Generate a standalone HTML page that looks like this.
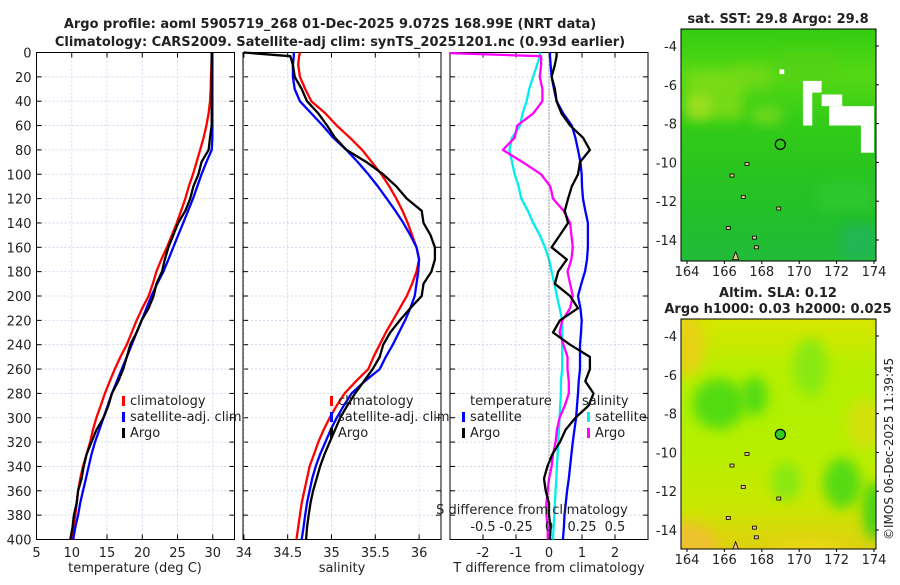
<!DOCTYPE html>
<html><head><meta charset="utf-8"><style>
body{margin:0;background:#fff;width:900px;height:580px;overflow:hidden}
svg{font-family:"DejaVu Sans","Liberation Sans",sans-serif}
</style></head><body>
<svg id="c" width="900" height="580"></svg>
<script>
// ---------- data ----------
const depths=[0,3,10,20,30,40,50,60,70,80,90,100,110,120,130,140,150,160,170,180,190,200,210,220,230,240,250,260,270,280,290,300,310,320,330,340,350,360,370,380,390,400];
const tempArgo=[29.85,29.85,29.85,29.85,29.85,29.85,29.85,29.85,29.6,29.4,28.4,27.96,27.25,26.8,26.1,25.1,24.4,23.7,23.2,22.8,22.0,21.6,20.9,19.9,19.2,18.3,17.8,17.3,16.6,15.7,15.2,14.5,13.5,12.8,12.1,11.7,11.4,10.9,10.7,10.3,10.1,9.8];
const tempClim=[29.85,29.85,29.8,29.75,29.7,29.6,29.4,29.1,28.7,28.2,27.7,27.2,26.6,26.1,25.5,24.9,24.2,23.5,22.7,22.0,21.5,20.9,20.0,19.2,18.5,17.8,16.9,16.1,15.4,14.7,14.1,13.5,13.0,12.6,12.1,11.6,11.2,10.9,10.7,10.5,10.2,10.0];
const tempSat=[29.95,29.95,29.95,29.95,29.95,29.95,29.95,29.95,29.95,29.85,29.1,28.4,27.8,27.2,26.5,25.8,25.1,24.4,23.7,23.0,22.1,21.3,20.6,19.9,19.2,18.5,17.8,17.1,16.4,15.7,15.1,14.5,13.9,13.3,12.8,12.4,12.0,11.6,11.2,10.9,10.5,10.2];
const salArgo=[34.0,34.53,34.56,34.58,34.66,34.72,34.85,34.95,35.04,35.17,35.4,35.59,35.74,35.86,36.03,36.05,36.13,36.18,36.18,36.14,36.05,36.03,35.9,35.78,35.67,35.59,35.55,35.47,35.37,35.27,35.18,35.1,35.04,34.98,34.92,34.87,34.83,34.79,34.76,34.74,34.72,34.71];
const salClim=[34.64,34.63,34.62,34.64,34.7,34.77,34.93,35.06,35.21,35.35,35.46,35.57,35.66,35.74,35.81,35.87,35.92,35.97,36.0,35.97,35.92,35.86,35.78,35.7,35.62,35.55,35.48,35.42,35.28,35.15,35.06,34.98,34.91,34.85,34.8,34.75,34.72,34.69,34.66,34.64,34.62,34.6];
const salSat=[34.57,34.57,34.56,34.56,34.58,34.64,34.77,34.9,35.02,35.17,35.3,35.42,35.53,35.63,35.73,35.82,35.9,35.97,36.0,35.99,35.97,35.95,35.9,35.84,35.77,35.7,35.62,35.55,35.38,35.23,35.14,35.06,34.99,34.93,34.87,34.82,34.78,34.75,34.72,34.7,34.68,34.66];
const tdArgo=[0.23,0.23,0.18,0.08,0.18,0.23,0.38,0.64,1.03,1.24,0.94,0.88,0.69,0.58,0.48,0.58,0.33,0.08,0.54,0.28,0.18,0.64,0.88,0.33,0.12,0.64,1.24,1.24,1.1,1.35,1.2,0.8,0.5,0.33,0.1,-0.05,-0.15,-0.1,0.0,0.0,0.05,0.03];
const tdSat=[0.03,0.03,0.05,0.08,0.15,0.23,0.43,0.69,0.8,0.88,0.95,0.99,1.0,1.03,1.1,1.18,1.18,1.18,1.15,1.09,0.98,0.88,0.95,0.99,0.97,0.94,0.94,0.94,0.9,0.88,0.85,0.82,0.77,0.72,0.68,0.64,0.6,0.55,0.51,0.47,0.45,0.42];
const sdSat=[-0.07,-0.07,-0.09,-0.12,-0.15,-0.17,-0.2,-0.22,-0.28,-0.3,-0.28,-0.26,-0.23,-0.21,-0.16,-0.12,-0.07,-0.03,0.0,0.02,0.04,0.06,0.08,0.1,0.1,0.1,0.1,0.1,0.09,0.09,0.085,0.08,0.075,0.07,0.065,0.06,0.055,0.05,0.045,0.04,0.035,0.03];
const sdArgo=[-0.9,-0.06,-0.06,-0.07,-0.05,-0.05,-0.12,-0.24,-0.26,-0.35,-0.2,-0.06,0.01,0.03,0.11,0.16,0.17,0.18,0.17,0.14,0.16,0.18,0.16,0.1,0.08,0.11,0.14,0.14,0.15,0.15,0.12,0.08,0.06,0.05,0.03,0.02,0.0,-0.01,-0.02,-0.02,-0.01,-0.01];
const depthTicks=[0,20,40,60,80,100,120,140,160,180,200,220,240,260,280,300,320,340,360,380,400];
const tTicks=[5,10,15,20,25,30];
const sTicks=[34,34.5,35,35.5,36];
const dTicks=[-2,-1,0,1,2];
const sdTicks=[-0.5,-0.25,0,0.25,0.5];
const lonTicks=[164,166,168,170,172,174];
const latTicks=[-4,-6,-8,-10,-12,-14];
// ---------- helpers ----------
const svg=document.getElementById('c');const NS='http://www.w3.org/2000/svg';
function el(t,a,p){const e=document.createElementNS(NS,t);for(const k in a)e.setAttribute(k,a[k]);(p||svg).appendChild(e);return e;}
function txt(x,y,s,o){o=o||{};const e=el('text',{x:x,y:y,'font-size':o.fs||13,'text-anchor':o.a||'middle',fill:o.c||'#222','font-weight':o.b?'bold':'normal'});e.textContent=s;return e;}
const yTop=52.5,yBot=539.5;const yD=d=>yTop+(yBot-yTop)*d/400;
const defs=el('defs',{});
let clipN=0;
function panel(x0,x1,xmin,xmax,ticks,name,ylabels){
  const xs=v=>x0+(x1-x0)*(v-xmin)/(xmax-xmin);
  const g=el('g',{});
  depthTicks.forEach(d=>{el('line',{x1:x0,x2:x1,y1:yD(d),y2:yD(d),stroke:'#c8d0ec','stroke-dasharray':'2,2','stroke-width':0.8},g);
    el('line',{x1:x0,x2:x0+5,y1:yD(d),y2:yD(d),stroke:'#000'},g);el('line',{x1:x1-5,x2:x1,y1:yD(d),y2:yD(d),stroke:'#000'},g);
    if(ylabels){const t=txt(x0-5,yD(d)+5,String(d),{a:'end'});g.appendChild(t);}});
  ticks.forEach(v=>{el('line',{x1:xs(v),x2:xs(v),y1:yTop,y2:yBot,stroke:'#c8d0ec','stroke-dasharray':'2,2','stroke-width':0.8},g);
    el('line',{x1:xs(v),x2:xs(v),y1:yBot,y2:yBot-5,stroke:'#000'},g);el('line',{x1:xs(v),x2:xs(v),y1:yTop,y2:yTop+5,stroke:'#000'},g);});
  el('rect',{x:x0,y:yTop,width:x1-x0,height:yBot-yTop,fill:'none',stroke:'#000','stroke-width':1},g);
  const cid='clip'+(clipN++);const cp=el('clipPath',{id:cid},defs);el('rect',{x:x0,y:yTop-2,width:x1-x0,height:yBot-yTop+4},cp);
  const lg=el('g',{'clip-path':'url(#'+cid+')'});
  return {xs:xs,g:g,lg:lg};
}
function line(arr,xs,color,name,parent){const n=Math.min(arr.length,depths.length);const p=[];
  for(let i=0;i<n;i++)p.push(xs(arr[i]).toFixed(1)+','+yD(depths[i]).toFixed(1));
  const e=el('polyline',{points:p.join(' '),fill:'none',stroke:color,'stroke-width':2.3,'stroke-linejoin':'round'},parent);
  return e;}
function leg(x,y,color,label,name){const g=el('g',{});
  el('rect',{x:x,y:y-9,width:3,height:10,fill:color},g);g.appendChild(txt(x+8,y,label,{a:'start'}));}
// titles
const t1=txt(330,28,'Argo profile: aoml 5905719_268 01-Dec-2025 9.072S 168.99E (NRT data)',{b:true});
const t2=txt(340,46,'Climatology: CARS2009. Satellite-adj clim: synTS_20251201.nc (0.93d earlier)',{b:true});
// panel 1
const p1=panel(36.5,234.5,5,33.08,tTicks,'temperature-panel',true);
tTicks.forEach(v=>txt(p1.xs(v),557,String(v)));
txt(135,572,'temperature (deg C)');
line(tempClim,p1.xs,'#f00','temp-climatology-line',p1.lg);line(tempSat,p1.xs,'#00f','temp-satellite-line',p1.lg);line(tempArgo,p1.xs,'#000','temp-argo-line',p1.lg);
leg(122,405,'#f00','climatology','legend-climatology');leg(122,421,'#00f','satellite-adj. clim','legend-satellite');leg(122,437,'#000','Argo','legend-argo');
// panel 2
const p2=panel(243,441,33.99,36.25,sTicks,'salinity-panel',false);
sTicks.forEach(v=>txt(p2.xs(v),557,String(v)));
txt(342,572,'salinity');
line(salClim,p2.xs,'#f00','sal-climatology-line',p2.lg);line(salSat,p2.xs,'#00f','sal-satellite-line',p2.lg);line(salArgo,p2.xs,'#000','sal-argo-line',p2.lg);
leg(330,405,'#f00','climatology','legend2-climatology');leg(330,421,'#00f','satellite-adj. clim','legend2-satellite');leg(330,437,'#000','Argo','legend2-argo');
// panel 3
const p3=panel(450,648,-3.0,3.0,dTicks,'difference-panel',false);
const xsS=v=>p3.xs(v*4);
dTicks.forEach(v=>txt(p3.xs(v),557,String(v)));
sdTicks.forEach(v=>txt(xsS(v),531,String(v)));
txt(532,514,'S difference from climatology');
txt(549,572,'T difference from climatology');
el('line',{x1:p3.xs(0),x2:p3.xs(0),y1:yTop,y2:yBot,stroke:'#555','stroke-dasharray':'1,2'});
line(sdSat,xsS,'#0ee','sal-diff-satellite-line',p3.lg);line(tdSat,p3.xs,'#00f','temp-diff-satellite-line',p3.lg);
line(sdArgo,xsS,'#f0f','sal-diff-argo-line',p3.lg);line(tdArgo,p3.xs,'#000','temp-diff-argo-line',p3.lg);
txt(470,405,'temperature',{a:'start'});txt(582,405,'salinity',{a:'start'});
leg(462,421,'#00f','satellite','legend3-temp-satellite');leg(462,437,'#000','Argo','legend3-temp-argo');
leg(587,421,'#0ee','satellite','legend3-sal-satellite');leg(587,437,'#f0f','Argo','legend3-sal-argo');
// maps
function map(y0,y1,stops,extra,name,titles,filledDot){
  const x0=681,x1=876;const xs=v=>687+(874-687)*(v-164)/10;const ys=v=>y0+17+19.4*(-4-v);
  const g=el('g',{});
  const gid=name+'-grad';const lg=el('linearGradient',{id:gid,x1:0,y1:0,x2:0,y2:1},defs);
  stops.forEach((c,i)=>el('stop',{offset:i/(stops.length-1),'stop-color':c},lg));
  const cid=name+'-clip';const cp=el('clipPath',{id:cid},defs);el('rect',{x:x0,y:y0,width:x1-x0,height:y1-y0},cp);
  const inner=el('g',{'clip-path':'url(#'+cid+')'},g);
  el('rect',{x:x0,y:y0,width:x1-x0,height:y1-y0,fill:'url(#'+gid+')'},inner);
  extra(inner,xs,ys);
  [[166.3,-10.6],[166.9,-11.7],[167.5,-13.8],[167.6,-14.3],[166.1,-13.3],[168.8,-12.3],[167.1,-10.0]].forEach(p=>el('rect',{x:xs(p[0]),y:ys(p[1]),width:4,height:3,fill:'#f0c090',stroke:'#000','stroke-width':0.8},inner));
  el('path',{d:'M'+xs(166.6)+' '+ys(-14.6)+' l3 8 l-6 0 z',fill:'#f0c090',stroke:'#000','stroke-width':0.8},inner);
  el('rect',{x:x0,y:y0,width:x1-x0,height:y1-y0,fill:'none',stroke:'#000'},g);
  el('circle',{cx:xs(168.99),cy:ys(-9.07),r:5,fill:filledDot||'none',stroke:'#000','stroke-width':1.2},g);
  lonTicks.forEach(v=>{txt(xs(v),y1+15,String(v));el('line',{x1:xs(v),x2:xs(v),y1:y1,y2:y1+3,stroke:'#000'},g);});
  latTicks.forEach(v=>{txt(x0-4,ys(v)+5,String(v),{a:'end'});el('line',{x1:x1,x2:x1+3,y1:ys(v),y2:ys(v),stroke:'#000'},g);});
  titles.forEach((t,i)=>txt(778,y0-6-16*(titles.length-1-i),t,{b:true}));
}
const blur=el('filter',{id:'blur',x:'-50%',y:'-50%',width:'200%',height:'200%'},defs);el('feGaussianBlur',{stdDeviation:6},blur);
map(29,261,['#33cc11','#55d815','#33cc18','#2ac41e','#22c02a','#22bb3a'],(g,xs,ys)=>{
  [[164,-5.3,3,2.5,'#88dd18'],[164,-6.5,1.2,1.2,'#aae020'],[166.5,-5,2,1.2,'#77d818'],[167.5,-7.2,1.5,0.8,'#88dd20'],[169,-4.3,3,1.5,'#55d018'],[171,-11,3,1.5,'#33c830'],[172.3,-13.2,1.8,1.8,'#22b560']].forEach(r=>el('rect',{x:xs(r[0]),y:ys(r[1]),width:r[2]*18.7,height:r[3]*19.4,fill:r[4],opacity:0.75,filter:'url(#blur)'},g));
  [[170.2,-5.8,1.0,0.6],[170.2,-6.4,0.5,1.7],[171.2,-6.5,1.1,0.6],[171.6,-7.1,2.4,1.0],[173.3,-8.1,0.7,1.4],[168.95,-5.2,0.25,0.25]].forEach(r=>el('rect',{x:xs(r[0]),y:ys(r[1]),width:r[2]*18.7,height:r[3]*19.4,fill:'#fff'},g));
},'sst-map',['sat. SST: 29.8 Argo: 29.8']);
map(319,549,['#d8e600','#b8ee00','#b0f000','#b8ee00','#c8e800','#e0d010'],(g,xs,ys)=>{
  [[165.7,-7.5,1.4,1.3,'#44d816'],[167.6,-7.1,0.7,1.0,'#44d816'],[170.6,-5.6,0.9,1.5,'#80e818'],[172.3,-11.6,1.0,1.3,'#44d816'],[174,-13,0.6,1.5,'#33d016'],[169.3,-11.5,0.8,1.0,'#80e818']].forEach(r=>el('ellipse',{cx:xs(r[0]),cy:ys(r[1]),rx:r[2]*18.7,ry:r[3]*19.4,fill:r[4],opacity:0.85,filter:'url(#blur)'},g));
  [[164,-14.8,1.6,1.2,'#f0c030'],[164,-4.5,1.0,1.6,'#e8d018'],[173.5,-8.5,1,1.3,'#d8e010'],[170.5,-15,1.8,0.6,'#e8d818']].forEach(r=>el('ellipse',{cx:xs(r[0]),cy:ys(r[1]),rx:r[2]*18.7,ry:r[3]*19.4,fill:r[4],opacity:0.9,filter:'url(#blur)'},g));
},'sla-map',['Altim. SLA: 0.12','Argo h1000: 0.03 h2000: 0.025'],'#33cc22');
const cr=el('text',{x:0,y:0,'font-size':12,fill:'#222',transform:'translate(893,540) rotate(-90)'});cr.textContent='©IMOS 06-Dec-2025 11:39:45';

</script>
</body></html>
